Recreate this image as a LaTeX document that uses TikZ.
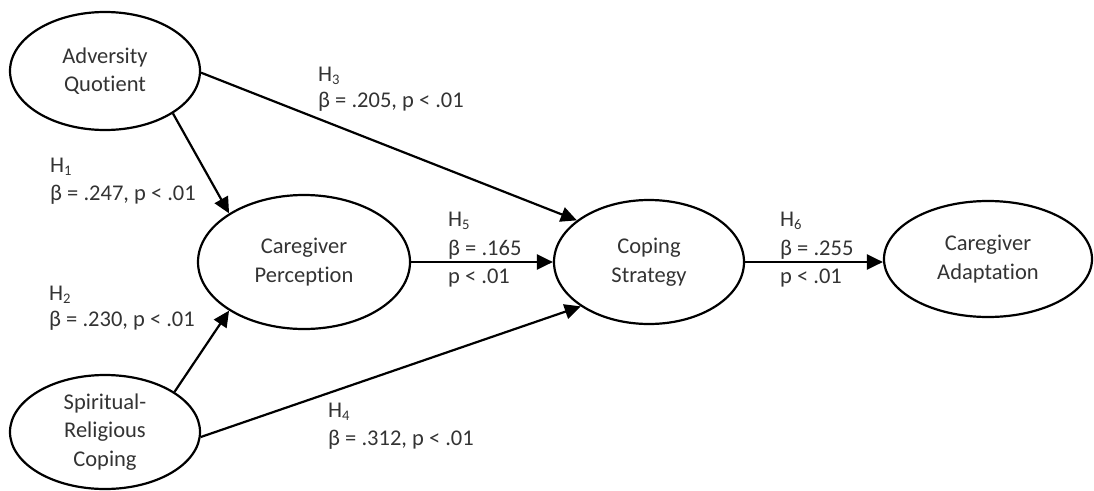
\documentclass[tikz,border=0pt]{standalone}
\usepackage{fontspec}
\setmainfont[Ligatures={NoCommon}]{Carlito}
\usetikzlibrary{shapes.geometric,arrows.meta}
\newcommand{\hsub}[1]{\raisebox{-3.3pt}{\fontsize{14.6}{14.6}\selectfont #1}}
\begin{document}
\begin{tikzpicture}[x=1pt,y=-1pt,
  every node/.style={font=\fontsize{22.5}{28.5}\selectfont, text=black!80},
  latent/.style={ellipse, draw=black, line width=2.2pt, align=center, inner xsep=0pt, inner ysep=-8pt},
  lbl/.style={anchor=base west, inner sep=0pt},
  path/.style={draw=black, line width=2.2pt, -{Triangle[length=16pt,width=15pt]}}]
\useasboundingbox (0,0) rectangle (1094,490);
\node[latent, minimum width=190pt, minimum height=118pt] (aq) at (105,71) {Adversity\\Quotient};
\node[latent, minimum width=190pt, minimum height=114pt] (src) at (105,432) {Spiritual-\\Religious\\Coping};
\node[latent, minimum width=212pt, minimum height=134pt] (cp) at (304,262) {Caregiver\\Perception};
\node[latent, minimum width=190pt, minimum height=124pt] (cs) at (649,262) {Coping\\Strategy};
\node[latent, minimum width=208pt, minimum height=116pt] (ca) at (988,259) {Caregiver\\Adaptation};

\draw[path] (aq.-32) -- (cp.147);
\draw[path] (src.30.5) -- (cp.213);
\draw[path] (aq.-1) -- (cs.150);
\draw[path] (src.-3) -- (cs.213);
\draw[path] (cp.east) -- (cs.west);
\draw[path] (cs.east) -- (cs.east -| ca.west);

\node[lbl] (h1a) at (50,172) {H\hsub{1}};
\node[lbl] (h1b) at (50,200) {β = .247, p < .01};
\node[lbl] (h2a) at (49,300) {H\hsub{2}};
\node[lbl] (h2b) at (49,326) {β = .230, p < .01};
\node[lbl] (h3a) at (318,81) {H\hsub{3}};
\node[lbl] (h3b) at (318,107) {β = .205, p < .01};
\node[lbl] (h4a) at (328,417) {H\hsub{4}};
\node[lbl] (h4b) at (328,445) {β = .312, p < .01};
\node[lbl] (h5a) at (448,226) {H\hsub{5}};
\node[lbl] (h5b) at (448,255) {β = .165};
\node[lbl] (h5c) at (448,283) {p < .01};
\node[lbl] (h6a) at (780,226) {H\hsub{6}};
\node[lbl] (h6b) at (780,255) {β = .255};
\node[lbl] (h6c) at (780,283) {p < .01};
\end{tikzpicture}
\end{document}
